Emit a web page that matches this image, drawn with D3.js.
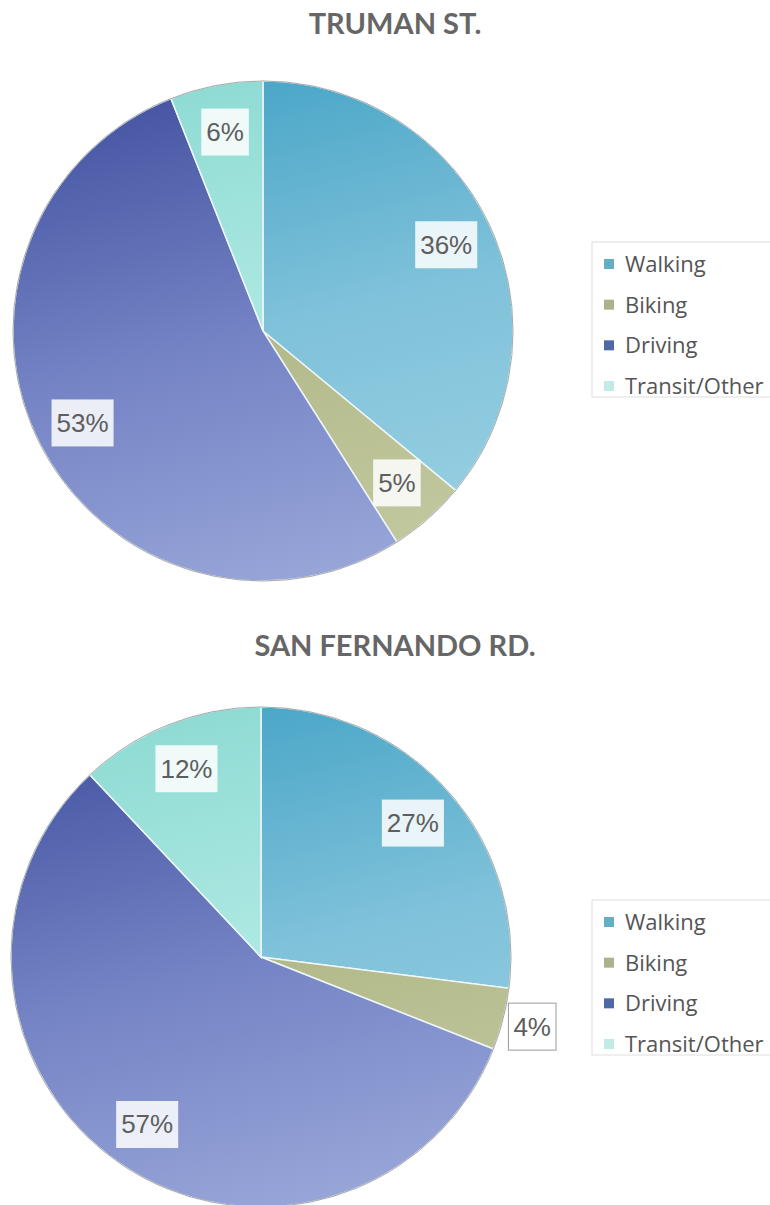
<!DOCTYPE html>
<html>
<head>
<meta charset="utf-8">
<script src="https://cdn.jsdelivr.net/npm/d3@7"></script>
<style>
  body { margin: 0; background: #fff; }
  svg { display: block; }
  .title { font-family: Lato, "Open Sans", sans-serif; font-weight: 700; font-size: 29px; fill: #666; }
  .lbl { font-family: "Liberation Sans", Arial, sans-serif; font-size: 26px; fill: #5e5e5e; }
  .leg { font-family: "Open Sans", "Noto Sans", sans-serif; font-size: 22px; fill: #555; }
</style>
</head>
<body>
<svg id="chart" width="770" height="1205"></svg>
<script>
const categories = ["Walking", "Biking", "Driving", "Transit/Other"];
const trumanValues = [36, 5, 53, 6];
const sanFernandoValues = [27, 4, 57, 12];
const titles = ["TRUMAN ST.", "SAN FERNANDO RD."];
// gradient stops per slice: top, middle, bottom
const colorsTop = ["#48a5c7", "#a3aa78", "#4555a2", "#8edbd3"];
const colorsMid = ["#80c2da", "#b2b989", "#7483c4", "#aee9e3"];
const colorsBottom = ["#98d0e2", "#c3c9a0", "#98a6d9", "#c6f0ec"];
const legendColors = ["#64afc6", "#abb28c", "#5068a4", "#c3ebe6"];

const svg = d3.select("#chart");
const defs = svg.append("defs");
const R = 250;

const charts = [
  { title: titles[0], values: trumanValues, cx: 263, cy: 331, titleY: 34, legendY: 242 },
  { title: titles[1], values: sanFernandoValues, cx: 261, cy: 957, titleY: 656, legendY: 900 },
];

const pie = d3.pie().sort(null).value((d) => d);
const arc = d3.arc().innerRadius(0).outerRadius(R);
const labelArc = d3.arc().innerRadius(R * 0.81).outerRadius(R * 0.81);
const outArc = d3.arc().innerRadius(R * 1.12).outerRadius(R * 1.12);

const measure = svg.append("text").attr("class", "lbl").attr("visibility", "hidden");

charts.forEach((c, ci) => {
  // gradients in the local coords of the pie group
  categories.forEach((cat, i) => {
    const g = defs
      .append("linearGradient")
      .attr("id", `grad${ci}_${i}`)
      .attr("gradientUnits", "userSpaceOnUse")
      .attr("x1", -R * 0.25)
      .attr("y1", -R)
      .attr("x2", R * 0.25)
      .attr("y2", R);
    g.append("stop").attr("offset", "0%").attr("stop-color", colorsTop[i]);
    g.append("stop").attr("offset", "50%").attr("stop-color", colorsMid[i]);
    g.append("stop").attr("offset", "100%").attr("stop-color", colorsBottom[i]);
  });

  svg
    .append("text")
    .attr("class", "title")
    .attr("x", 395)
    .attr("y", c.titleY)
    .attr("text-anchor", "middle")
    .text(c.title);

  const g = svg.append("g").attr("transform", `translate(${c.cx},${c.cy})`);
  const arcs = pie(c.values);

  g.selectAll("path.slice")
    .data(arcs)
    .enter()
    .append("path")
    .attr("class", "slice")
    .attr("d", arc)
    .attr("fill", (d, i) => `url(#grad${ci}_${i})`)
    .attr("stroke", "#eef6f8")
    .attr("stroke-width", 1.5);

  g.append("circle").attr("r", R).attr("fill", "none").attr("stroke", "#a9a9a9").attr("stroke-width", 1);

  arcs.forEach((d) => {
    const small = d.data < 5;
    const [x, y] = small ? outArc.centroid(d) : labelArc.centroid(d);
    const txt = `${d.data}%`;
    measure.text(txt);
    const w = measure.node().getComputedTextLength() + 10;
    const h = 47;
    g.append("rect")
      .attr("x", x - w / 2)
      .attr("y", y - h / 2)
      .attr("width", w)
      .attr("height", h)
      .attr("fill", small ? "#fff" : "rgba(255,255,255,0.85)")
      .attr("stroke", small ? "#9a9a9a" : "none")
      .attr("stroke-width", 1);
    g.append("text")
      .attr("class", "lbl")
      .attr("x", x)
      .attr("y", y + 9)
      .attr("text-anchor", "middle")
      .text(txt);
  });

  // legend
  const lg = svg.append("g").attr("transform", `translate(592,${c.legendY})`);
  lg.append("rect")
    .attr("width", 190)
    .attr("height", 155)
    .attr("fill", "#fff")
    .attr("stroke", "#dedede");
  const ly = d3.scalePoint().domain(categories).range([30, 152]);
  categories.forEach((cat, i) => {
    lg.append("rect")
      .attr("x", 12)
      .attr("y", ly(cat) - 13)
      .attr("width", 10)
      .attr("height", 10)
      .attr("fill", legendColors[i]);
    lg.append("text")
      .attr("class", "leg")
      .attr("x", 33)
      .attr("y", ly(cat))
      .text(cat);
  });
});
measure.remove();
</script>
</body>
</html>
